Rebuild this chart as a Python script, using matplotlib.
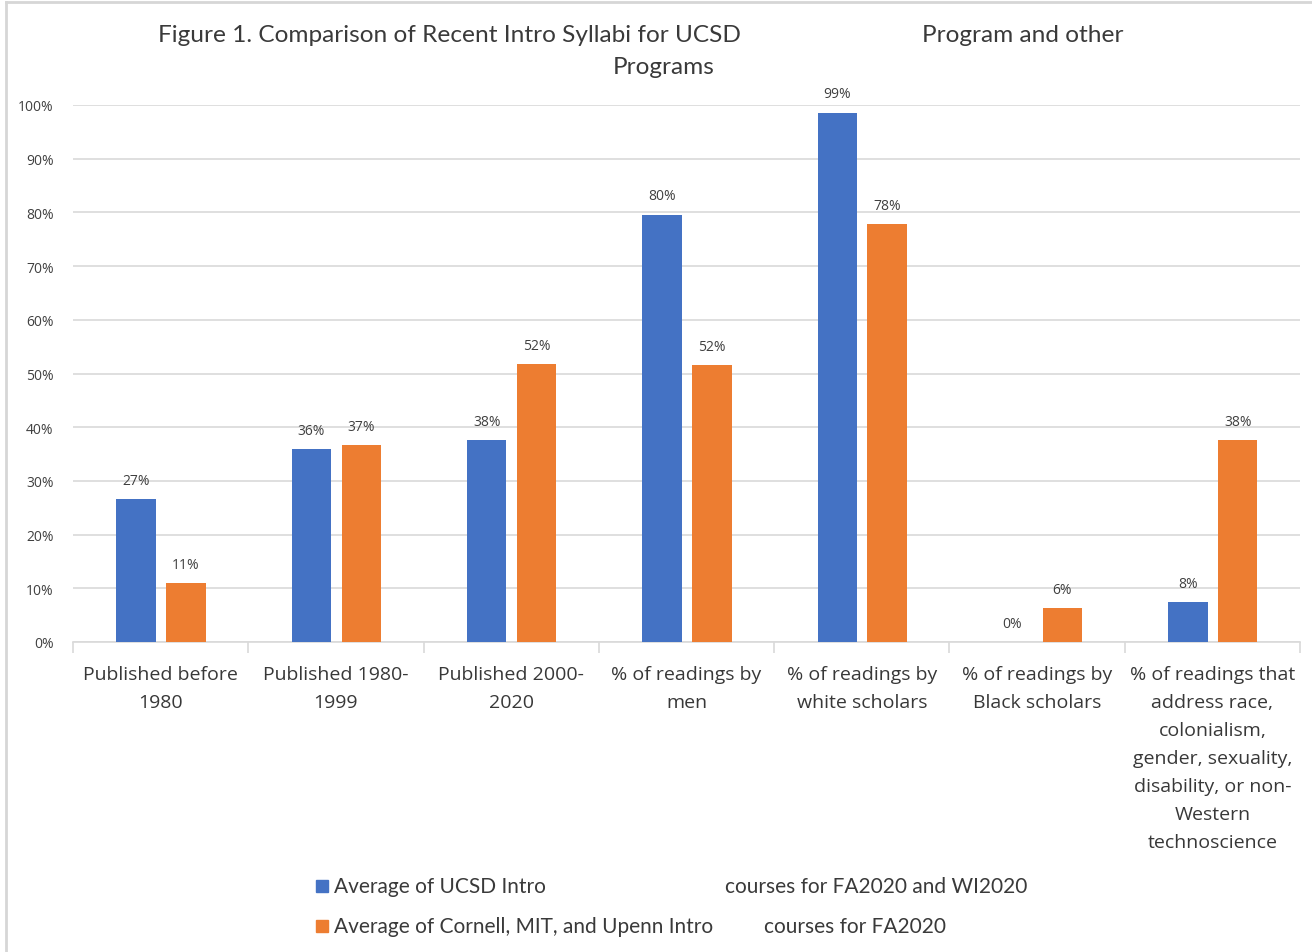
import matplotlib.pyplot as plt
from matplotlib.lines import Line2D
from matplotlib.patches import Rectangle
import numpy as np

categories = ['Published before\n1980', 'Published 1980-\n1999', 'Published 2000-\n2020',
              '% of readings by\nmen', '% of readings by\nwhite scholars',
              '% of readings by\nBlack scholars',
              '% of readings that\naddress race,\ncolonialism,\ngender, sexuality,\ndisability, or non-\nWestern\ntechnoscience']
ucsd = [26.6, 35.9, 37.6, 79.6, 98.6, 0.0, 7.5]
others = [11.0, 36.6, 51.7, 51.6, 77.9, 6.3, 37.6]
yticks = list(range(0, 101, 10))

blue = '#4472C4'
orange = '#ED7D31'
grid = '#D9D9D9'
txt = '#404040'

W, H = 1312, 953
fig = plt.figure(figsize=(W / 100, H / 100), dpi=100)
ax = fig.add_axes([73 / W, 310 / H, 1227 / W, 537 / H])

x = np.arange(len(categories))
bw = 0.225
b1 = ax.bar(x - 0.14, ucsd, bw, color=blue, zorder=3)
b2 = ax.bar(x + 0.145, others, bw, color=orange, zorder=3)

for bars, vals in ((b1, ucsd), (b2, others)):
    for rect, v in zip(bars, vals):
        ax.annotate(f'{v:.0f}%', (rect.get_x() + rect.get_width() / 2, v),
                    xytext=(0, 8), textcoords='offset points', ha='center', va='bottom',
                    fontsize=10, color=txt, family='Open Sans', annotation_clip=False)

ax.set_xlim(-0.5, len(categories) - 0.5)
ax.set_ylim(0, 100)
ax.set_yticks(yticks)
ax.set_yticklabels([f'{t}%' for t in yticks], fontsize=10, color=txt, family='Open Sans')
ax.tick_params(axis='y', length=0, pad=14)
ax.yaxis.grid(True, color=grid, linewidth=1.2, zorder=0)

# category labels, with separator ticks between groups
ax.set_xticks(x)
ax.set_xticklabels([])
ax.tick_params(axis='x', which='major', length=0)
ax.set_xticks(np.arange(-0.5, len(categories)), minor=True)
ax.tick_params(axis='x', which='minor', length=8, color=grid, width=1.2)
for xi, lab in zip(x, categories):
    ax.text(xi, -4.2, lab, ha='center', va='top', fontsize=14, color='#383838',
            family='Open Sans', linespacing=1.72, transform=ax.transData)

for s in ('top', 'right', 'left'):
    ax.spines[s].set_visible(False)
ax.spines['bottom'].set_color(grid)
ax.spines['bottom'].set_linewidth(1.2)

# title pieces
fig.text(449 / W, 1 - 35 / H, 'Figure 1. Comparison of Recent Intro Syllabi for UCSD',
         ha='center', va='center', fontsize=17.6, color='#3a3a3a', family='Lato')
fig.text(922 / W, 1 - 35 / H, 'Program and other',
         ha='left', va='center', fontsize=17.6, color='#3a3a3a', family='Lato')
fig.text(664 / W, 1 - 68 / H, 'Programs',
         ha='center', va='center', fontsize=17.6, color='#3a3a3a', family='Lato')

# legend
for yy, col, left, right, rx in ((887, blue, 'Average of UCSD Intro', 'courses for FA2020 and WI2020', 725),
                                 (927, orange, 'Average of Cornell, MIT, and Upenn Intro', 'courses for FA2020', 764)):
    fig.patches.append(Rectangle((316 / W, 1 - (yy + 6) / H), 12 / W, 12 / H,
                                 transform=fig.transFigure, color=col))
    fig.text(334 / W, 1 - yy / H, left, ha='left', va='center', fontsize=15,
             color='#3a3a3a', family='Lato')
    fig.text(rx / W, 1 - yy / H, right, ha='left', va='center', fontsize=15,
             color='#3a3a3a', family='Lato')

# frame edges
fig.add_artist(Line2D([6 / W, 6 / W], [0, 1 - 3 / H], transform=fig.transFigure,
                      color='#d6d6d6', linewidth=2))
fig.add_artist(Line2D([6 / W, 1], [1 - 3 / H, 1 - 3 / H], transform=fig.transFigure,
                      color='#d6d6d6', linewidth=2))

fig.savefig('out.png', dpi=100, facecolor='white')
